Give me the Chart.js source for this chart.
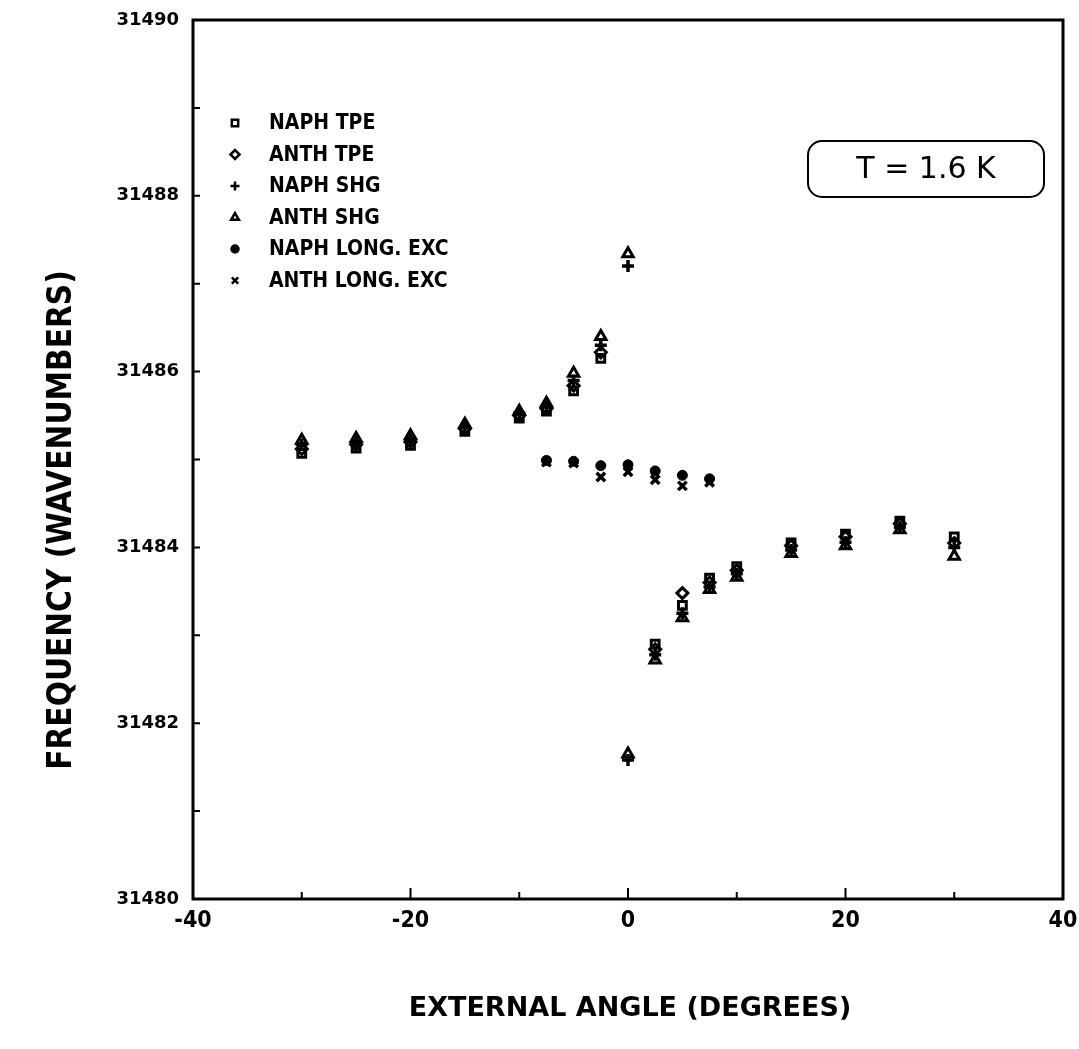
<!DOCTYPE html>
<html>
<head>
<meta charset="utf-8">
<script src="https://cdn.jsdelivr.net/npm/chart.js@4/dist/chart.umd.min.js"></script>
<style>
  body { margin: 0; background: #fff; }
  #wrap { width: 1079px; height: 1049px; position: relative; }
</style>
</head>
<body>
<div id="wrap"><canvas id="myChart"></canvas></div>
<script>
'use strict'

// angles (degrees)
const tpeAngles = [-30, -25, -20, -15, -10, -7.5, -5, -2.5, 2.5, 5, 7.5, 10, 15, 20, 25, 30];
const shgAngles = [-30, -25, -20, -15, -10, -7.5, -5, -2.5, 0, 0, 2.5, 5, 7.5, 10, 15, 20, 25, 30];
const longAngles = [-7.5, -5, -2.5, 0, 2.5, 5, 7.5];

// frequencies (wavenumbers)
const naphTpe = [31485.07, 31485.13, 31485.16, 31485.32, 31485.47, 31485.55, 31485.78, 31486.15,
  31482.9, 31483.34, 31483.65, 31483.78, 31484.05, 31484.15, 31484.3, 31484.12];
const anthTpe = [31485.12, 31485.17, 31485.2, 31485.35, 31485.5, 31485.58, 31485.84, 31486.22,
  31482.84, 31483.48, 31483.6, 31483.74, 31484.02, 31484.12, 31484.27, 31484.05];
const naphShg = [31485.17, 31485.2, 31485.23, 31485.37, 31485.53, 31485.6, 31485.9, 31486.3, 31487.2, 31481.58,
  31482.78, 31483.25, 31483.55, 31483.7, 31483.97, 31484.06, 31484.23, 31484.0];
const anthShg = [31485.22, 31485.24, 31485.27, 31485.4, 31485.55, 31485.64, 31485.98, 31486.4, 31487.34, 31481.65,
  31482.72, 31483.2, 31483.52, 31483.66, 31483.93, 31484.02, 31484.2, 31483.9];
const naphLong = [31484.99, 31484.98, 31484.93, 31484.94, 31484.87, 31484.82, 31484.78];
const anthLong = [31484.97, 31484.96, 31484.8, 31484.86, 31484.77, 31484.7, 31484.74];

const seriesNames = ['NAPH TPE', 'ANTH TPE', 'NAPH SHG', 'ANTH SHG', 'NAPH LONG. EXC', 'ANTH LONG. EXC'];
const yTicks = [31480, 31482, 31484, 31486, 31488, 31490];
const xTicks = [-40, -20, 0, 20, 40];

function pairs(xs, ys) {
  return xs.map(function (x, i) { return { x: x, y: ys[i] }; });
}

function makeSet(label, xs, ys, style, radius, width, fill) {
  return {
    label: label,
    data: pairs(xs, ys),
    pointStyle: style,
    pointRadius: radius,
    pointHoverRadius: radius,
    borderColor: '#000',
    borderWidth: width,
    backgroundColor: fill || 'rgba(0,0,0,0)',
    showLine: false
  };
}

// legend, frame, inward ticks, axis titles and the T box
const decorPlugin = {
  id: 'decor',
  afterDraw: function (chart) {
    const ctx = chart.ctx;
    const area = chart.chartArea;
    const xs = chart.scales.x;
    const ys = chart.scales.y;
    ctx.save();
    ctx.strokeStyle = '#000';
    ctx.fillStyle = '#000';

    // frame
    ctx.lineWidth = 3;
    ctx.strokeRect(area.left, area.top, area.right - area.left, area.bottom - area.top);

    // inward ticks
    ctx.lineWidth = 2;
    ctx.beginPath();
    for (let v = 31481; v < 31490; v++) {
      const py = ys.getPixelForValue(v);
      ctx.moveTo(area.left, py);
      ctx.lineTo(area.left + 7, py);
    }
    for (let a = -30; a <= 30; a += 10) {
      const px = xs.getPixelForValue(a);
      ctx.moveTo(px, area.bottom);
      ctx.lineTo(px, area.bottom - (a % 20 === 0 ? 11 : 7));
    }
    ctx.stroke();

    // legend
    ctx.textBaseline = 'middle';
    ctx.textAlign = 'left';
    chart.data.datasets.forEach(function (ds, i) {
      const ly = 123 + i * 31.5;
      ctx.fillStyle = ds.pointStyle === 'circle' ? '#000' : '#fff';
      ctx.strokeStyle = '#000';
      ctx.lineWidth = 2.5;
      Chart.helpers.drawPoint(ctx, {
        pointStyle: ds.pointStyle,
        radius: ds.pointStyle === 'circle' ? 3.5 : 4.5,
        rotation: 0,
        borderWidth: 2.5
      }, 235, ly);
      ctx.fillStyle = '#000';
      ctx.font = 'bold 21px "DejaVu Sans Condensed"';
      ctx.fillText(ds.label, 269, ly + 1);
    });

    // temperature box
    ctx.lineWidth = 2;
    ctx.beginPath();
    ctx.roundRect(808, 141, 236, 56, 14);
    ctx.stroke();
    ctx.font = '30px "DejaVu Sans"';
    ctx.textAlign = 'center';
    ctx.fillText('T = 1.6 K', 926, 170);

    // axis titles
    ctx.font = 'bold 27px "DejaVu Sans"';
    ctx.fillText('EXTERNAL ANGLE (DEGREES)', 630, 1009);
    ctx.translate(62, 520);
    ctx.rotate(-Math.PI / 2);
    ctx.font = 'bold 33px "DejaVu Sans Condensed"';
    ctx.fillText('FREQUENCY (WAVENUMBERS)', 0, 0);
    ctx.restore();
  }
};

const ctx = document.getElementById('myChart').getContext('2d');
// eslint-disable-next-line no-unused-vars
const chart = new Chart(ctx, {
  type: 'scatter',
  data: {
    datasets: [
      makeSet(seriesNames[0], tpeAngles, naphTpe, 'rect', 5.5, 3),
      makeSet(seriesNames[1], tpeAngles, anthTpe, 'rectRot', 5.5, 3),
      makeSet(seriesNames[2], shgAngles, naphShg, 'cross', 6, 3.5),
      makeSet(seriesNames[3], shgAngles, anthShg, 'triangle', 6, 3),
      makeSet(seriesNames[4], longAngles, naphLong, 'circle', 5, 1, '#000'),
      makeSet(seriesNames[5], longAngles, anthLong, 'crossRot', 6, 3.5)
    ]
  },
  options: {
    responsive: true,
    maintainAspectRatio: false,
    animation: false,
    layout: { padding: { left: 0, top: 20, right: 16, bottom: 0 } },
    plugins: {
      legend: { display: false },
      tooltip: { enabled: false }
    },
    scales: {
      x: {
        type: 'linear',
        min: -40,
        max: 40,
        afterBuildTicks: function (scale) {
          scale.ticks = xTicks.map(function (v) { return { value: v }; });
        },
        grid: { display: false, drawTicks: false },
        border: { display: false },
        ticks: {
          color: '#000',
          padding: 8,
          maxRotation: 0,
          autoSkip: false,
          font: { family: '"DejaVu Sans Condensed"', weight: 'bold', size: 23 }
        },
        afterFit: function (scale) {
          scale.height = 150;
          scale.paddingLeft = 0;
          scale.paddingRight = 0;
        }
      },
      y: {
        type: 'linear',
        min: 31480,
        max: 31490,
        afterBuildTicks: function (scale) {
          scale.ticks = yTicks.map(function (v) { return { value: v }; });
        },
        grid: { display: false, drawTicks: false },
        border: { display: false },
        ticks: {
          color: '#000',
          padding: 14,
          autoSkip: false,
          callback: function (v) { return String(v); },
          font: { family: '"DejaVu Sans"', weight: 'bold', size: 18 }
        },
        afterFit: function (scale) {
          scale.width = 193;
          scale.paddingTop = 0;
          scale.paddingBottom = 0;
        }
      }
    }
  },
  plugins: [decorPlugin]
});
</script>
</body>
</html>
